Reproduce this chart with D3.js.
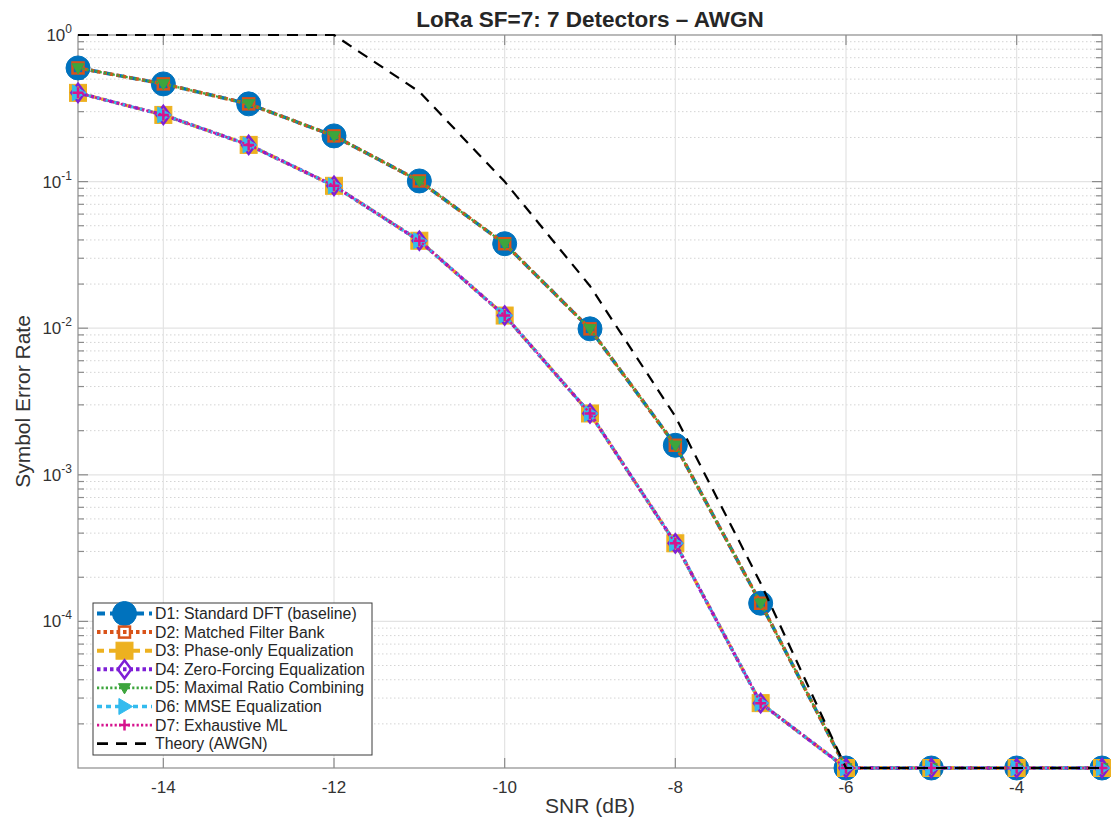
<!DOCTYPE html>
<html lang="en">
<head>
    <meta charset="UTF-8">
    <title>LoRa SF=7: 7 Detectors – AWGN</title>
    <script src="https://d3js.org/d3.v7.min.js"></script>
    <style>
        body { margin: 0; background: #fff; }
        svg text { font-family: "Liberation Sans", Arial, sans-serif; }
    </style>
</head>
<body>
<svg id="chart" width="1111" height="820"></svg>

<script>
// SNR points (dB)
const snr = [-15, -14, -13, -12, -11, -10, -9, -8, -7, -6, -5, -4, -3];

// SER (zero errors are shown at the floor 1e-5)
const serD1 = [0.596, 0.464, 0.339, 0.205, 0.101, 0.0377, 0.0099, 0.00159, 1.33e-4, 1e-5, 1e-5, 1e-5, 1e-5];
const serD2 = [0.596, 0.464, 0.339, 0.205, 0.101, 0.0377, 0.0099, 0.00159, 1.33e-4, 1e-5, 1e-5, 1e-5, 1e-5];
const serD3 = [0.403, 0.285, 0.178, 0.0936, 0.0395, 0.0122, 0.00262, 3.41e-4, 2.77e-5, 1e-5, 1e-5, 1e-5, 1e-5];
const serD4 = [0.403, 0.285, 0.178, 0.0936, 0.0395, 0.0122, 0.00262, 3.41e-4, 2.77e-5, 1e-5, 1e-5, 1e-5, 1e-5];
const serD5 = [0.596, 0.464, 0.339, 0.205, 0.101, 0.0377, 0.0099, 0.00159, 1.33e-4, 1e-5, 1e-5, 1e-5, 1e-5];
const serD6 = [0.403, 0.285, 0.178, 0.0936, 0.0395, 0.0122, 0.00262, 3.41e-4, 2.77e-5, 1e-5, 1e-5, 1e-5, 1e-5];
const serD7 = [0.403, 0.285, 0.178, 0.0936, 0.0395, 0.0122, 0.00262, 3.41e-4, 2.77e-5, 1e-5, 1e-5, 1e-5, 1e-5];
const serTheory = [1, 1, 1, 1, 0.41, 0.1, 0.0194, 0.0025, 1.82e-4, 1e-5, 1e-5, 1e-5, 1e-5];

const xTicks = [-14, -12, -10, -8, -6, -4];
const yTicks = [1, 1e-1, 1e-2, 1e-3, 1e-4];
const yExps = ["0", "-1", "-2", "-3", "-4"];

const labels = [
    "D1: Standard DFT (baseline)",
    "D2: Matched Filter Bank",
    "D3: Phase-only Equalization",
    "D4: Zero-Forcing Equalization",
    "D5: Maximal Ratio Combining",
    "D6: MMSE Equalization",
    "D7: Exhaustive ML",
    "Theory (AWGN)"
];

// styles per series
const series = [
    {name: labels[0], values: serD1, color: "#0072BD", width: 3.5, dash: "8,5", marker: "circle", size: 12, fill: true},
    {name: labels[1], values: serD2, color: "#D95319", width: 3.5, dash: "3.5,3", marker: "square", size: 5.5, fill: false},
    {name: labels[2], values: serD3, color: "#EDB120", width: 3.5, dash: "7,5", marker: "square", size: 8.5, fill: true},
    {name: labels[3], values: serD4, color: "#7E1FD6", width: 3.5, dash: "3.5,3", marker: "diamond", size: 9, fill: false},
    {name: labels[4], values: serD5, color: "#3DA53D", width: 2.2, dash: "2.2,2.2", marker: "tridown", size: 6, fill: true},
    {name: labels[5], values: serD6, color: "#33BBEE", width: 3, dash: "5,4", marker: "triright", size: 8, fill: true},
    {name: labels[6], values: serD7, color: "#D6138E", width: 2.2, dash: "2.2,2.2", marker: "plus", size: 5.5, fill: false},
    {name: labels[7], values: serTheory, color: "#000000", width: 2.2, dash: "11,8", marker: null}
];

const svg = d3.select("#chart");
const mLeft = 78, mRight = 1102, mTop = 35, mBottom = 768;

const x = d3.scaleLinear().domain([-15, -3]).range([mLeft, mRight]);
const y = d3.scaleLog().domain([1e-5, 1]).range([mBottom, mTop]);

// grid
const minorY = [];
for (let e = -5; e < 0; e++) {
    for (let m = 2; m <= 9; m++) minorY.push(m * Math.pow(10, e));
}
const grid = svg.append("g");
grid.selectAll(".minor").data(minorY).join("line")
    .attr("x1", mLeft).attr("x2", mRight)
    .attr("y1", d => y(d)).attr("y2", d => y(d))
    .attr("stroke", "#d4d4d4").attr("stroke-width", 1)
    .attr("stroke-dasharray", "1.5,2.5");
grid.selectAll(".majy").data(yTicks.slice(1)).join("line")
    .attr("x1", mLeft).attr("x2", mRight)
    .attr("y1", d => y(d)).attr("y2", d => y(d))
    .attr("stroke", "#e3e3e3").attr("stroke-width", 1.2);
grid.selectAll(".majx").data(xTicks).join("line")
    .attr("x1", d => x(d)).attr("x2", d => x(d))
    .attr("y1", mTop).attr("y2", mBottom)
    .attr("stroke", "#e3e3e3").attr("stroke-width", 1.2);

// axes box and ticks
const axisColor = "#8c8c8c";
svg.append("rect")
    .attr("x", mLeft).attr("y", mTop)
    .attr("width", mRight - mLeft).attr("height", mBottom - mTop)
    .attr("fill", "none").attr("stroke", axisColor).attr("stroke-width", 1.2);

const ticks = svg.append("g").attr("stroke", axisColor).attr("stroke-width", 1.2);
xTicks.forEach(t => {
    ticks.append("line").attr("x1", x(t)).attr("x2", x(t)).attr("y1", mBottom).attr("y2", mBottom - 10);
    ticks.append("line").attr("x1", x(t)).attr("x2", x(t)).attr("y1", mTop).attr("y2", mTop + 10);
});
yTicks.forEach(t => {
    ticks.append("line").attr("x1", mLeft).attr("x2", mLeft + 10).attr("y1", y(t)).attr("y2", y(t));
    ticks.append("line").attr("x1", mRight).attr("x2", mRight - 10).attr("y1", y(t)).attr("y2", y(t));
});
minorY.forEach(t => {
    ticks.append("line").attr("x1", mLeft).attr("x2", mLeft + 6).attr("y1", y(t)).attr("y2", y(t));
    ticks.append("line").attr("x1", mRight).attr("x2", mRight - 6).attr("y1", y(t)).attr("y2", y(t));
});

// tick labels
svg.append("g").selectAll("text").data(xTicks).join("text")
    .attr("x", d => x(d)).attr("y", mBottom + 25)
    .attr("text-anchor", "middle")
    .attr("font-size", 17).attr("fill", "#333")
    .text(d => d);

const yl = svg.append("g").selectAll("text").data(yTicks).join("text")
    .attr("x", mLeft - 6).attr("y", d => y(d) + 6)
    .attr("text-anchor", "end")
    .attr("font-size", 17).attr("fill", "#333");
yl.append("tspan").text("10");
yl.append("tspan").attr("dy", -8).attr("font-size", 12).text((d, i) => yExps[i]);

// titles
svg.append("text").attr("x", (mLeft + mRight) / 2).attr("y", 27)
    .attr("text-anchor", "middle").attr("font-size", 22.5).attr("font-weight", "bold")
    .attr("fill", "#262626")
    .text("LoRa SF=7: 7 Detectors – AWGN");
svg.append("text").attr("x", (mLeft + mRight) / 2).attr("y", 813)
    .attr("text-anchor", "middle").attr("font-size", 21).attr("fill", "#333")
    .text("SNR (dB)");
svg.append("text").attr("transform", `translate(30,${(mTop + mBottom) / 2}) rotate(-90)`)
    .attr("text-anchor", "middle").attr("font-size", 21).attr("fill", "#333")
    .text("Symbol Error Rate");

// marker drawing
function drawMarker(g, s, cx, cy) {
    const r = s.size;
    let el;
    if (s.marker === "circle") {
        el = g.append("circle").attr("cx", cx).attr("cy", cy).attr("r", r);
    } else if (s.marker === "square") {
        el = g.append("rect").attr("x", cx - r).attr("y", cy - r).attr("width", 2 * r).attr("height", 2 * r);
    } else if (s.marker === "diamond") {
        el = g.append("path").attr("d", `M${cx},${cy - r}L${cx + r * 0.75},${cy}L${cx},${cy + r}L${cx - r * 0.75},${cy}Z`);
    } else if (s.marker === "tridown") {
        el = g.append("path").attr("d", `M${cx - r},${cy - r * 0.7}L${cx + r},${cy - r * 0.7}L${cx},${cy + r}Z`);
    } else if (s.marker === "triright") {
        el = g.append("path").attr("d", `M${cx - r * 0.7},${cy - r}L${cx + r},${cy}L${cx - r * 0.7},${cy + r}Z`);
    } else if (s.marker === "plus") {
        el = g.append("path").attr("d", `M${cx - r},${cy}H${cx + r}M${cx},${cy - r}V${cy + r}`);
    }
    if (s.fill) {
        el.attr("fill", s.color).attr("stroke", s.color).attr("stroke-width", 1);
    } else {
        el.attr("fill", "none").attr("stroke", s.color).attr("stroke-width", 2.5);
    }
}

const line = d3.line().x((d, i) => x(snr[i])).y(d => y(d));

series.forEach(s => {
    const g = svg.append("g");
    g.append("path").datum(s.values)
        .attr("d", line)
        .attr("fill", "none")
        .attr("stroke", s.color)
        .attr("stroke-width", s.width)
        .attr("stroke-dasharray", s.dash)
        .attr("stroke-linejoin", "round");
    if (s.marker) {
        s.values.forEach((v, i) => drawMarker(g, s, x(snr[i]), y(v)));
    }
});

// legend
const lg = svg.append("g");
lg.append("rect").attr("x", 93).attr("y", 603).attr("width", 279).attr("height", 152)
    .attr("fill", "#fff").attr("stroke", "#3a3a3a").attr("stroke-width", 1);
series.forEach((s, i) => {
    const cy = 613.5 + i * 18.6;
    lg.append("line").attr("x1", 97).attr("x2", 152).attr("y1", cy).attr("y2", cy)
        .attr("stroke", s.color).attr("stroke-width", s.width + 0.5)
        .attr("stroke-dasharray", s.dash);
    if (s.marker) drawMarker(lg, s, 124.5, cy);
    lg.append("text").attr("x", 155).attr("y", cy + 5.5)
        .attr("font-size", 15.8).attr("fill", "#262626")
        .text(s.name);
});
</script>
</body>
</html>
